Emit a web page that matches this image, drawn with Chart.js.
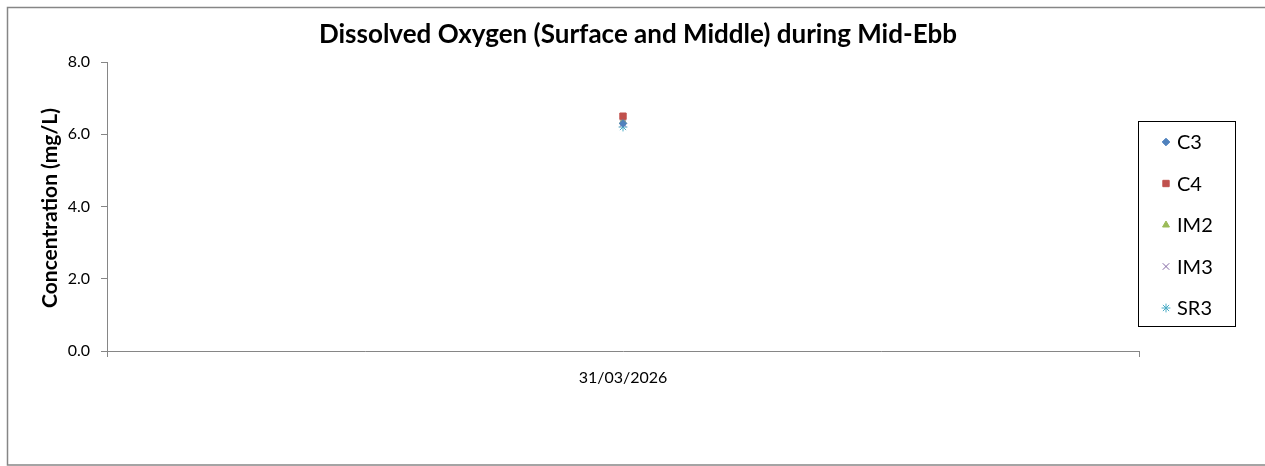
<!DOCTYPE html>
<html>
<head>
<meta charset="utf-8">
<script src="https://cdn.jsdelivr.net/npm/chart.js@4"></script>
<style>
html,body{margin:0;padding:0;background:#fff;}
#wrap{width:1265px;height:466px;position:relative;}
</style>
</head>
<body>
<div id="wrap"><canvas id="c" width="1265" height="466"></canvas></div>
<script>
const categories = ['31/03/2026'];
const seriesNames = ['C3', 'C4', 'IM2', 'IM3', 'SR3'];
const C3 = [6.3];
const C4 = [6.5];
const IM2 = [6.35];
const IM3 = [6.3];
const SR3 = [6.2];
const yTicks = [0, 2, 4, 6, 8];
const titleText = 'Dissolved Oxygen (Surface and Middle) during Mid-Ebb';
const yTitle = 'Concentration (mg/L)';

const colors = ['#4F81BD', '#C0504D', '#9BBB59', '#8064A2', '#4BACC6'];
const styles = ['rectRot', 'rect', 'triangle', 'crossRot', 'star'];
const radii = [3.8, 4.5, 4, 4.6, 4.4];
const values = [C3, C4, IM2, IM3, SR3];

const FONT = 'Lato, "Open Sans", sans-serif';

const datasets = seriesNames.map((n, i) => ({
  label: n,
  data: values[i],
  showLine: false,
  pointStyle: styles[i],
  pointRadius: radii[i],
  pointHoverRadius: radii[i],
  backgroundColor: colors[i],
  borderColor: colors[i],
  pointBorderWidth: 1
}));

const decor = {
  id: 'decor',
  afterDraw(chart) {
    const ctx = chart.ctx;
    ctx.save();
    // outer border
    ctx.strokeStyle = '#868686';
    ctx.lineWidth = 1.5;
    ctx.strokeRect(7.5, 7.5, 1265, 457.5);
    // title
    ctx.fillStyle = '#000';
    ctx.font = 'bold 26px ' + FONT;
    ctx.textAlign = 'center';
    ctx.textBaseline = 'middle';
    ctx.fillText(titleText, 638, 35);
    // y title
    ctx.save();
    ctx.translate(50, 208);
    ctx.rotate(-Math.PI / 2);
    ctx.font = 'bold 21px ' + FONT;
    ctx.fillText(yTitle, 0, 0);
    ctx.restore();
    // legend
    ctx.strokeStyle = '#000';
    ctx.lineWidth = 1;
    ctx.strokeRect(1138.5, 121.5, 97, 205);
    ctx.font = '20px ' + FONT;
    ctx.textAlign = 'left';
    seriesNames.forEach((n, i) => {
      const y = 142 + i * 41.5;
      ctx.fillStyle = colors[i];
      ctx.strokeStyle = colors[i];
      ctx.lineWidth = 1;
      Chart.helpers.drawPoint(ctx, {pointStyle: styles[i], radius: radii[i], rotation: 0, borderWidth: 1}, 1166, y);
      ctx.fillStyle = '#000';
      ctx.fillText(n, 1177, y + 1);
    });
    ctx.restore();
  }
};

new Chart(document.getElementById('c'), {
  type: 'line',
  data: { labels: categories, datasets },
  options: {
    responsive: false,
    animation: false,
    events: [],
    layout: { padding: { left: 0, right: 126, top: 62, bottom: 0 } },
    plugins: { legend: { display: false }, title: { display: false }, tooltip: { enabled: false } },
    scales: {
      x: {
        type: 'category',
        offset: true,
        grid: { offset: true, drawOnChartArea: false, drawTicks: true, tickLength: 6, color: '#868686' },
        border: { color: '#868686', width: 1 },
        ticks: { color: '#000', font: { family: FONT, size: 16 }, padding: 11, maxRotation: 0 },
        afterFit(s) { s.height = 115; }
      },
      y: {
        min: 0, max: 8,
        afterBuildTicks(s) { s.ticks = yTicks.map(v => ({ value: v })); },
        grid: { drawOnChartArea: false, drawTicks: true, tickLength: 6, color: '#868686' },
        border: { color: '#868686', width: 1 },
        ticks: { color: '#000', font: { family: FONT, size: 16 }, padding: 11, callback: v => Number(v).toFixed(1) },
        afterFit(s) { s.width = 107; }
      }
    }
  },
  plugins: [decor]
});
</script>
</body>
</html>
